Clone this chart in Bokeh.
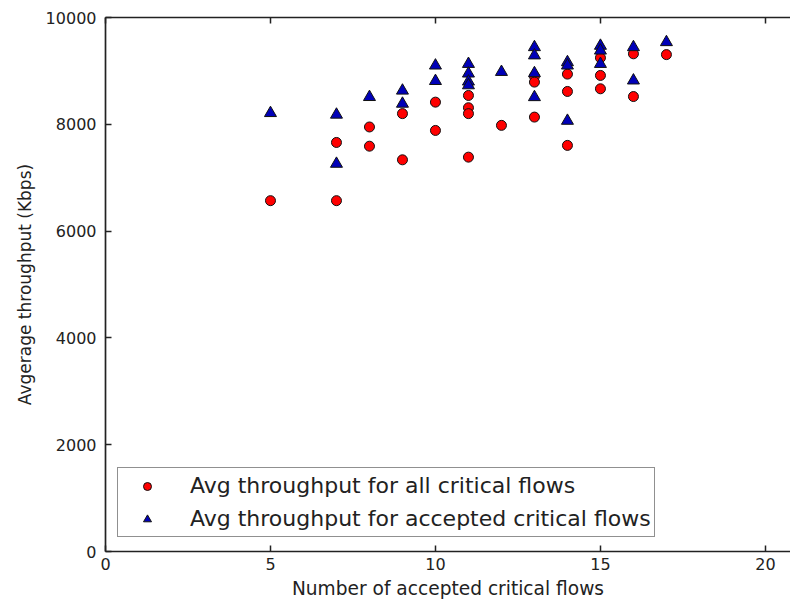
from bokeh.plotting import figure
from bokeh.models import Range1d, FixedTicker, LinearAxis, Legend, LegendItem, ColumnDataSource
from bokeh.embed import file_html
from bokeh.resources import INLINE

# Data
flows_all = [5, 7, 7, 8, 8, 9, 9, 10, 10, 11, 11, 11, 11, 12, 13, 13, 13, 14, 14, 14, 15, 15, 15, 16, 16, 17]
thr_all = [6570, 7660, 6570, 7950, 7590, 8200, 7335, 8415, 7885, 8540, 8310, 8200, 7385, 7980,
           8900, 8790, 8135, 8940, 8615, 7605, 9245, 8915, 8665, 9320, 8520, 9305]

flows_acc = [5, 7, 7, 8, 9, 9, 10, 10, 11, 11, 11, 11, 12, 13, 13, 13, 13, 14, 14, 14, 15, 15, 15, 16, 16, 17]
thr_acc = [8210, 8180, 7260, 8510, 8630, 8385, 9100, 8810, 9130, 8950, 8800, 8730, 8980,
           9444, 9290, 8957, 8508, 9163, 9100, 8065, 9470, 9380, 9130, 9444, 8820, 9538]

x_ticks = [0, 5, 10, 15, 20]
y_ticks = [0, 2000, 4000, 6000, 8000, 10000]

label_all = "Avg throughput for all critical flows"
label_acc = "Avg throughput for accepted critical flows"
x_label = "Number of accepted critical flows"
y_label = "Avgerage throughput (Kbps)"

FONT = "DejaVu Sans"
TXT = "#222222"

p = figure(width=790, height=605, output_backend="svg", toolbar_location=None,
           x_range=Range1d(0, 20.76), y_range=Range1d(0, 10000),
           min_border_left=105, min_border_right=0, min_border_top=17, min_border_bottom=54)
p.outline_line_color = None
p.xgrid.visible = False
p.ygrid.visible = False
p.background_fill_color = "white"
p.border_fill_color = "white"

src_all = ColumnDataSource(dict(x=flows_all, y=thr_all))
src_acc = ColumnDataSource(dict(x=flows_acc, y=thr_acc))

r_all = p.scatter("x", "y", source=src_all, marker="circle", size=10,
                  fill_color="#ff0000", line_color="#111111", line_width=1)
r_acc = p.scatter("x", "y", source=src_acc, marker="triangle", size=12,
                  fill_color="#0000b8", line_color="#111111", line_width=1)

for ax, ticks in ((p.xaxis[0], x_ticks), (p.yaxis[0], y_ticks)):
    ax.ticker = FixedTicker(ticks=ticks)
    ax.minor_tick_line_color = None
    ax.major_tick_in = 6
    ax.major_tick_out = 0
    ax.major_tick_line_color = TXT
    ax.major_tick_line_width = 1.5
    ax.axis_line_color = TXT
    ax.axis_line_width = 1.7
    ax.major_label_text_font = FONT
    ax.major_label_text_font_size = "16px"
    ax.major_label_text_color = TXT
    ax.axis_label_text_font = FONT
    ax.axis_label_text_font_style = "normal"
    ax.axis_label_text_color = TXT

p.xaxis[0].axis_label = x_label
p.xaxis[0].axis_label_text_font_size = "18.6px"
p.xaxis[0].major_label_standoff = 6
p.xaxis[0].axis_label_standoff = 5

p.yaxis[0].axis_label = y_label
p.yaxis[0].axis_label_text_font_size = "17px"
p.yaxis[0].major_label_standoff = 9
p.yaxis[0].axis_label_standoff = 8

top = LinearAxis(ticker=FixedTicker(ticks=x_ticks),
                 major_label_overrides={t: "" for t in x_ticks},
                 major_label_text_font_size="16px",
                 major_tick_in=6, major_tick_out=0, minor_tick_line_color=None,
                 major_label_standoff=0, axis_line_color=TXT, axis_line_width=1.7,
                 major_tick_line_color=TXT, major_tick_line_width=1.5)
p.add_layout(top, "above")

legend = Legend(items=[LegendItem(label=label_all, renderers=[r_all]),
                       LegendItem(label=label_acc, renderers=[r_acc])],
                location=(12, 14), orientation="vertical",
                label_text_font=FONT, label_text_font_size="22px", label_text_color=TXT,
                glyph_width=52, glyph_height=20, label_height=29, label_standoff=17,
                spacing=4, padding=3, margin=0,
                border_line_color=TXT, border_line_width=1.5,
                background_fill_color="white", background_fill_alpha=1)
p.add_layout(legend, "center")

open("out.html", "w").write(file_html(p, INLINE))
